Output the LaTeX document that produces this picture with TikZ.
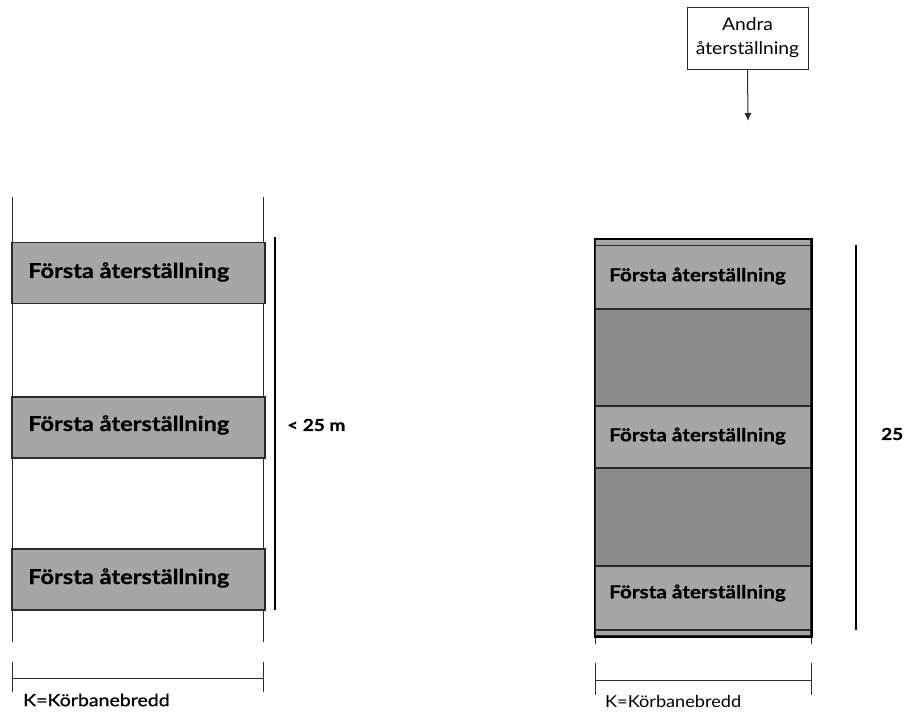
\documentclass[tikz,border=0pt]{standalone}
\usepackage{fontspec}
\setmainfont{Lato}
\newfontfamily\heavy{Lato}[FakeStretch=1.15, FakeBold=0.6]
\newfontfamily\wide{Lato}[FakeStretch=1.1]
\usetikzlibrary{arrows.meta}
\definecolor{lightg}{HTML}{A6A6A6}
\definecolor{darkg}{HTML}{8C8C8C}
\definecolor{edge}{HTML}{2A2A2A}
\tikzset{
  roadline/.style={draw=edge, line width=1pt},
  lbox/.style={rectangle, fill=lightg, draw=edge, line width=1.2pt, minimum width=253pt, minimum height=61pt, inner sep=0pt},
  rbox/.style={rectangle, fill=lightg, draw=edge, line width=1.2pt, minimum width=216pt, inner sep=0pt},
  dbox/.style={rectangle, fill=darkg, draw=edge, line width=1.2pt, minimum width=216pt, inner sep=0pt},
  strip/.style={rectangle, fill=lightg, draw=edge, line width=1.2pt, minimum width=216pt, minimum height=6pt, inner sep=0pt},
  bar/.style={draw=black, line width=2pt},
  klabelL/.style={font=\heavy\fontsize{17}{20}\selectfont, anchor=west, inner sep=0pt},
  klabelR/.style={font=\wide\fontsize{16.5}{20}\selectfont, anchor=west, inner sep=0pt},
  dimlabel/.style={font=\heavy\fontsize{16.5}{18}\selectfont\bfseries, anchor=west, inner sep=0pt},
  txt/.style={anchor=west, inner sep=0pt, font=\heavy\fontsize{20.5}{24}\selectfont\bfseries},
  rtxt/.style={anchor=west, inner sep=0pt, font=\heavy\fontsize{18}{22}\selectfont\bfseries}
}
\begin{document}
\begin{tikzpicture}[x=1pt,y=-1pt]
\useasboundingbox[fill=white] (0,0) rectangle (906,712);
% ---------- left road ----------
\coordinate (lt1) at (12,197); \coordinate (lb1) at (12,642);
\coordinate (rt1) at (263,197); \coordinate (rb1) at (263,642);
\draw[roadline] (lt1) -- (lb1);
\draw[roadline] (rt1) -- (rb1);
\node[lbox] (L1) at (138.5,273) {};
\node[lbox] (L2) at (138.5,427.5) {};
\node[lbox] (L3) at (138.5,579.5) {};
\node[txt] (L1t) at (28,272) {Första återställning};
\node[txt] (L2t) at (28,425) {Första återställning};
\node[txt] (L3t) at (28,578) {Första återställning};
\coordinate (b1t) at (275,237); \coordinate (b1b) at (275,610);
\draw[bar] (b1t) -- (b1b);
\node[dimlabel] (dim1) at (287,425) {< 25 m};
% bracket left
\coordinate (k1a) at (12,662); \coordinate (k1b) at (12,692);
\coordinate (k1c) at (263,662); \coordinate (k1d) at (263,692);
\coordinate (k1l) at (12,678); \coordinate (k1r) at (263,678);
\draw[roadline] (k1a) -- (k1b);
\draw[roadline] (k1c) -- (k1d);
\draw[roadline] (k1l) -- (k1r);
\node[klabelL] (K1) at (23,700) {K=Körbanebredd};
% ---------- right road ----------
\coordinate (lt2) at (595,630); \coordinate (lb2) at (595,644);
\coordinate (rt2) at (811,630); \coordinate (rb2) at (811,644);
\draw[roadline] (lt2) -- (lb2);
\draw[roadline] (rt2) -- (rb2);
\node[strip] (S1) at (703,242.5) {};
\node[rbox, minimum height=64pt] (R1) at (703,277.5) {};
\node[dbox, minimum height=97pt] (D1) at (703,357.5) {};
\node[rbox, minimum height=62pt] (R2) at (703,437) {};
\node[dbox, minimum height=98pt] (D2) at (703,517) {};
\node[rbox, minimum height=64pt] (R3) at (703,598) {};
\node[strip] (S2) at (703,633) {};
\draw[draw=black, line width=1.8pt] (S1.north west) rectangle (S2.south east);
\node[rtxt] (R1t) at (609,276) {Första återställning};
\node[rtxt] (R2t) at (609,436) {Första återställning};
\node[rtxt] (R3t) at (609,593) {Första återställning};
\coordinate (b2t) at (856,245); \coordinate (b2b) at (856,630);
\draw[bar] (b2t) -- (b2b);
\node[dimlabel] (dim2) at (881,434) {25};
% bracket right
\coordinate (k2a) at (595,663); \coordinate (k2b) at (595,695);
\coordinate (k2c) at (811,663); \coordinate (k2d) at (811,695);
\coordinate (k2l) at (595,680); \coordinate (k2r) at (811,680);
\draw[roadline] (k2a) -- (k2b);
\draw[roadline] (k2c) -- (k2d);
\draw[roadline] (k2l) -- (k2r);
\node[klabelR] (K2) at (605,701) {K=Körbanebredd};
% ---------- top box ----------
\node[rectangle, draw=edge, line width=1pt, minimum width=121pt, minimum height=62pt, align=center, inner sep=0pt, font=\wide\fontsize{17.5}{24}\selectfont] (A) at (747.5,38) {Andra\\återställning};
\coordinate (arrEnd) at (748,121);
\draw[draw=edge, line width=1pt, -{Latex[length=8pt,width=7pt]}] (A.south) -- (arrEnd);
\end{tikzpicture}
\end{document}
